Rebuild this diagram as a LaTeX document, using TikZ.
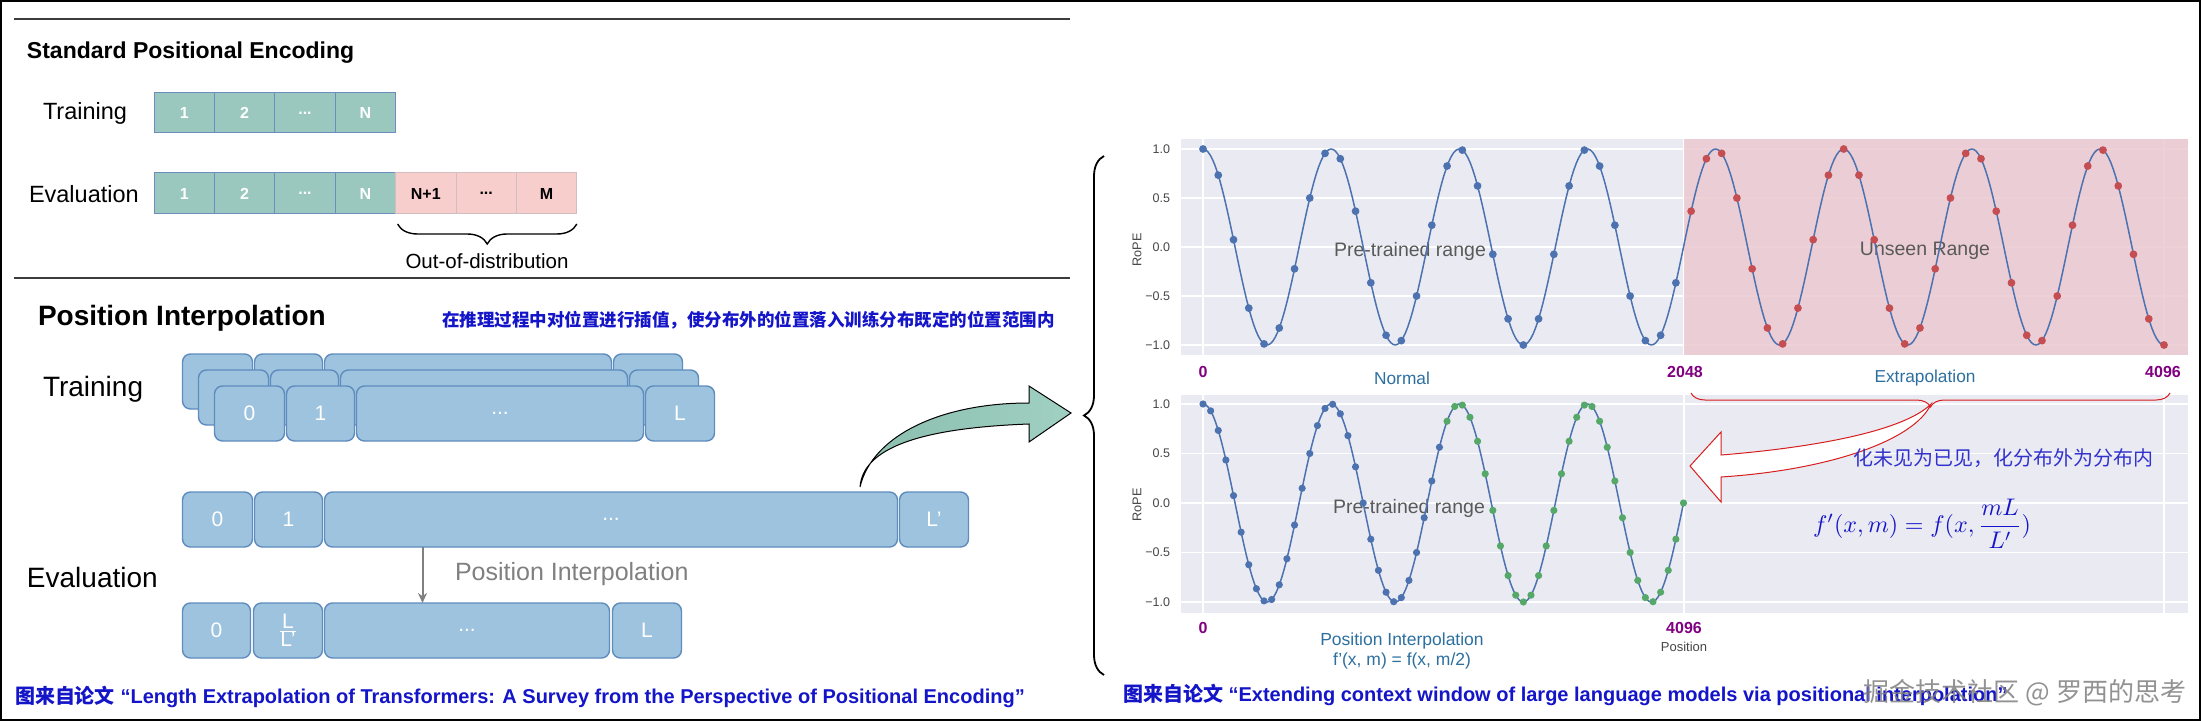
\documentclass[tikz,border=0pt]{standalone}
\usepackage{fontspec}
\usepackage{graphicx}
\setmainfont{Liberation Sans}
\newfontfamily\cjk{Noto Sans CJK SC}
\usetikzlibrary{decorations.pathreplacing,calc,arrows.meta}
\definecolor{teal1}{RGB}{154,200,190}
\definecolor{tealb}{RGB}{108,142,191}
\definecolor{pink1}{RGB}{248,206,204}
\definecolor{pinkb}{RGB}{210,190,190}
\definecolor{pfill}{RGB}{157,195,222}
\definecolor{pbord}{RGB}{95,140,190}
\definecolor{plotbg}{RGB}{234,234,242}
\definecolor{sblue}{RGB}{76,114,176}
\definecolor{sred}{RGB}{196,78,82}
\definecolor{sgreen}{RGB}{85,168,104}
\definecolor{regred}{RGB}{236,200,208}
\definecolor{lblblue}{RGB}{45,112,160}
\definecolor{numpurple}{RGB}{128,0,128}
\definecolor{citeblue}{RGB}{20,20,200}
\definecolor{tickgray}{RGB}{70,70,70}
\definecolor{rulegray}{RGB}{60,60,60}
\definecolor{arrdark}{RGB}{138,190,174}
\definecolor{arrlight}{RGB}{160,208,194}
\definecolor{brred}{RGB}{215,30,30}
\definecolor{txtblue}{RGB}{50,50,205}
\newcommand\fs[1]{\fontsize{#1}{#1}\selectfont}
\begin{document}
\begin{tikzpicture}[x=1pt,y=-1pt,
  every node/.style={inner sep=0pt, outer sep=0pt},
  tcell/.style={draw=tealb, fill=teal1, line width=1pt, minimum width=60.4pt, minimum height=40pt, text=white, font=\bfseries\fs{16}},
  pkcell/.style={draw=pinkb, fill=pink1, line width=1pt, minimum width=60.4pt, minimum height=41pt, text=black, font=\bfseries\fs{16}},
  pcell/.style={draw=pbord, fill=pfill, line width=1.4pt, rounded corners=8pt, minimum height=55pt, text=white, font=\fs{21}},
  gridl/.style={white, line width=1.1pt},
  ticklbl/.style={anchor=east, text=tickgray, font=\fs{12.5}},
  numlbl/.style={text=numpurple, font=\bfseries\fs{16}},
  axlbl/.style={text=lblblue, font=\fs{17.3}},
  rangelbl/.style={text=black!65, font=\fs{19.5}},
  cite/.style={anchor=west, text=citeblue, font=\bfseries\fs{20}}
]
\useasboundingbox (0,0) rectangle (2201,727);
\fill[white] (0,0) rectangle (2201,727);
\draw[line width=2pt] (1,1) rectangle (2200,720);

% ---------- Standard positional encoding ----------
\draw[rulegray, line width=2pt] (14,19) -- (1070,19);
\draw[rulegray, line width=2pt] (14,278) -- (1070,278);
\node[anchor=west, font=\bfseries\fs{23}] (spe) at (27,53) {Standard Positional Encoding};
\node[anchor=west, font=\fs{23.5}] (trl) at (43,113) {Training};
\node[anchor=west, font=\fs{23.5}] (evl) at (29,194) {Evaluation};
\node[tcell] (tr1) at (184.2,113) {1};
\node[tcell] (tr2) at (244.6,113) {2};
\node[tcell] (tr3) at (305.0,113) {...};
\node[tcell] (tr4) at (365.4,113) {N};
\node[tcell, minimum height=41pt] (ev1) at (184.2,193.5) {1};
\node[tcell, minimum height=41pt] (ev2) at (244.6,193.5) {2};
\node[tcell, minimum height=41pt] (ev3) at (305.0,193.5) {...};
\node[tcell, minimum height=41pt] (ev4) at (365.4,193.5) {N};
\node[pkcell] (ev5) at (425.8,193.5) {N+1};
\node[pkcell] (ev6) at (486.2,193.5) {...};
\node[pkcell] (ev7) at (546.6,193.5) {M};
\draw[decorate, decoration={brace, amplitude=20pt}, line width=1.4pt]
  ($(ev7.south east)+(0,10)$) -- ($(ev5.south west)+(2,10)$);
\node[font=\fs{20.5}] (ood) at (487,261) {Out-of-distribution};

% ---------- Position interpolation ----------
\node[anchor=west, font=\bfseries\fs{28}] (pit) at (38,318) {Position Interpolation};
\node[anchor=west, text=citeblue, font=\cjk\bfseries\fs{17.5}] (pich) at (442,320) {在推理过程中对位置进行插值，使分布外的位置落入训练分布既定的位置范围内};
\node[anchor=west, font=\fs{28}] (pitr) at (43,389) {Training};
\node[anchor=west, font=\fs{28}] (piev) at (27,577) {Evaluation};
% back layer
\node[pcell, minimum width=70pt] (b1) at (217.5,381.5) {};
\node[pcell, minimum width=68pt] (b2) at (288.5,381.5) {};
\node[pcell, minimum width=287pt] (b3) at (468,381.5) {};
\node[pcell, minimum width=69pt] (b4) at (648,381.5) {};
% middle layer
\node[pcell, minimum width=70pt] (m1) at (233.5,397.5) {};
\node[pcell, minimum width=68pt] (m2) at (304.5,397.5) {};
\node[pcell, minimum width=287pt] (m3) at (484,397.5) {};
\node[pcell, minimum width=69pt] (m4) at (664,397.5) {};
% front layer
\node[pcell, minimum width=70pt] (f1) at (249.5,413.5) {0};
\node[pcell, minimum width=68pt] (f2) at (320.5,413.5) {1};
\node[pcell, minimum width=287pt] (f3) at (500,413.5) {...};
\node[pcell, minimum width=69pt] (f4) at (680,413.5) {L};
% evaluation row 1
\node[pcell, minimum width=70pt] (e1) at (217.5,519.5) {0};
\node[pcell, minimum width=68pt] (e2) at (288.5,519.5) {1};
\node[pcell, minimum width=573pt] (e3) at (611,519.5) {...};
\node[pcell, minimum width=69pt] (e4) at (934,519.5) {L’};
% evaluation row 2
\node[pcell, minimum width=68pt] (g1) at (216.5,630.5) {0};
\node[pcell, minimum width=69pt] (g2) at (288,630.5) {\fs{21}$\frac{\hbox{L}}{\hbox{L’}}$};
\node[pcell, minimum width=285pt] (g3) at (467,630.5) {...};
\node[pcell, minimum width=69pt] (g4) at (647,630.5) {L};
\draw[-{Stealth[length=10pt,width=9pt]}, black!50, line width=2pt]
  ($(e3.south west)+(98,0)$) -- ($(g3.north west)+(98,0)$);
\node[anchor=west, text=black!50, font=\fs{25}] (pilab) at (455,574) {Position Interpolation};
% green curved arrow
\shadedraw[left color=arrdark, right color=arrlight, draw=black, line width=1pt]
  (860,487) .. controls (863,448) and (920,428) .. (1029,424)
  -- (1029,442) -- (1071,413) -- (1029,386) -- (1029,403)
  .. controls (940,403) and (872,436) .. (860,487) -- cycle;

% big brace
\draw[decorate, decoration={brace, amplitude=20pt}, line width=1.8pt] (1104,675) -- (1104,156);

% ---------- top plot ----------
\fill[plotbg] (1181,139) rectangle (2188,355);
\foreach \v in {0,...,4} {\draw[gridl] (1181,{149+49*\v}) -- (2188,{149+49*\v});}
\foreach \xg in {1203,1684,2164} {\draw[gridl] (\xg,139) -- (\xg,355);}
\fill[regred, opacity=0.85] (1684,139) rectangle (2188,355);
\foreach \v/\lab in {0/1.0,1/0.5,2/0.0,3/−0.5,4/−1.0} {\node[ticklbl] at (1170,{149+49*\v}) {\lab};}
\node[rotate=90, text=tickgray, font=\fs{12.7}] (ylab1) at (1137,250) {RoPE};
\node[rangelbl] (ptr1) at (1410,251) {Pre-trained range};
\node[rangelbl] (unr) at (1925,251) {Unseen Range};
\draw[sblue, line width=1.5pt] plot[domain=0:961, samples=400] ({1203+\x},{247-98*cos(2.809573*\x)});
\foreach \k in {0,...,63} {
  \pgfmathsetmacro\xx{1203+\k*15.253968}
  \pgfmathsetmacro\yy{247-98*cos(\k*42.857143)}
  \ifnum\k<32 \fill[sblue] (\xx,\yy) circle (3.9pt); \else \fill[sred] (\xx,\yy) circle (3.9pt); \fi
}
\node[numlbl] (n0a) at (1203,372) {0};
\node[axlbl] (norm) at (1402,378) {Normal};
\node[numlbl] (n2048) at (1685,372) {2048};
\node[axlbl] (extr) at (1925,378) {Extrapolation};
\node[numlbl] (n4096a) at (2163,372) {4096};

% ---------- bottom plot ----------
\fill[plotbg] (1181,395) rectangle (2188,613);
\foreach \v in {0,...,4} {\draw[gridl] (1181,{404+49.5*\v}) -- (2188,{404+49.5*\v});}
\foreach \xg in {1203,1684,2164} {\draw[gridl] (\xg,395) -- (\xg,613);}
\foreach \v/\lab in {0/1.0,1/0.5,2/0.0,3/−0.5,4/−1.0} {\node[ticklbl] at (1170,{404+49.5*\v}) {\lab};}
\node[rotate=90, text=tickgray, font=\fs{12.7}] (ylab2) at (1137,505) {RoPE};
\node[rangelbl] (ptr2) at (1409,508) {Pre-trained range};
\draw[sblue, line width=1.5pt] plot[domain=0:480.5, samples=300] ({1203+\x},{503-99*cos(2.809573*\x)});
\foreach \k in {0,...,63} {
  \pgfmathsetmacro\xx{1203+\k*7.626984}
  \pgfmathsetmacro\yy{503-99*cos(\k*21.428571)}
  \ifnum\k<32 \fill[sblue] (\xx,\yy) circle (3.6pt); \else \fill[sgreen] (\xx,\yy) circle (3.6pt); \fi
}
\node[numlbl] (n0b) at (1203,628) {0};
\node[axlbl, font=\fs{17.5}] (pil) at (1402,641) {Position Interpolation};
\node[axlbl, font=\fs{17.5}] (pif) at (1402,661) {f’(x, m) = f(x, m/2)};
\node[numlbl] (n4096b) at (1684,628) {4096};
\node[text=tickgray, font=\fs{13}] (posl) at (1684,647) {Position};

% red brace and white arrow
\draw[decorate, decoration={brace, amplitude=14pt}, brred, line width=1pt] (2170,393) -- (1691,393);
\filldraw[fill=white, draw=brred, line width=1pt]
  (1931,404) .. controls (1905,430) and (1820,447) .. (1721,455)
  -- (1721,432) -- (1690,466) -- (1721,502) -- (1721,477)
  .. controls (1830,470) and (1915,440) .. (1931,404) -- cycle;
\node[anchor=west, text=txtblue, font=\cjk\fs{20}] (unseen) at (1853,458) {化未见为已见，化分布外为分布内};
\node[text=citeblue] (fm) at (1922,524) {\resizebox{218pt}{!}{$f'(x,m)=f(x,\displaystyle\frac{mL}{L'})$}};

% ---------- citations ----------
\node[cite] (cit1) at (15,697) {{\cjk 图来自论文} “Length Extrapolation of Transformers: A Survey from the Perspective of Positional Encoding”};
\node[cite] (cit2) at (1123,695) {{\cjk 图来自论文} “Extending context window of large language models via positional interpolation”};
\node[text=black!50, opacity=0.85, font=\cjk\fs{26}] (wm) at (2025,693) {掘金技术社区 @ 罗西的思考};
\end{tikzpicture}
\end{document}
